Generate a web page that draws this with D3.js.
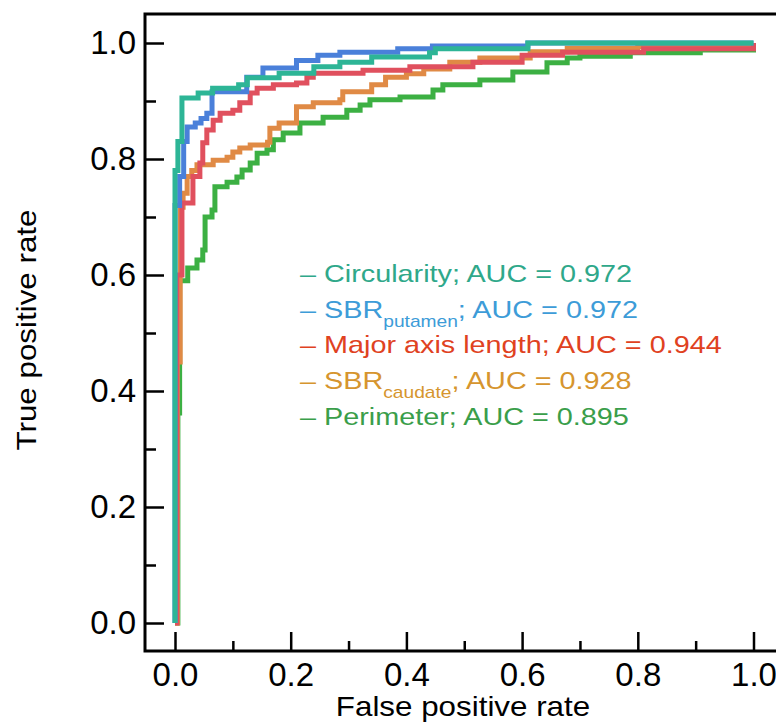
<!DOCTYPE html>
<html>
<head>
<meta charset="utf-8">
<script src="https://cdn.jsdelivr.net/npm/d3@7"></script>
<style>
  body { margin: 0; background: #fff; }
  text { font-family: "Liberation Sans", Arial, Helvetica, sans-serif; }
</style>
</head>
<body>
<div id="my_dataviz"></div>
<script>
// ROC points [false positive rate, true positive rate]
var circularityRoc = [[0,0],[0,0.78],[0.005,0.83],[0.012,0.905],[0.04,0.914],[0.065,0.922],[0.11,0.928],[0.125,0.94],[0.18,0.948],[0.24,0.959],[0.285,0.967],[0.34,0.976],[0.44,0.983],[0.45,0.99],[0.61,1.0],[1,1]];
var putamenRoc = [[0,0],[0,0.72],[0.008,0.77],[0.015,0.83],[0.021,0.855],[0.035,0.862],[0.045,0.87],[0.055,0.879],[0.064,0.916],[0.124,0.941],[0.152,0.957],[0.21,0.97],[0.247,0.979],[0.285,0.984],[0.385,0.99],[0.445,0.995],[0.61,1.0],[1,1]];
var majorAxisRoc = [[0,0],[0.003,0.6],[0.012,0.724],[0.031,0.77],[0.043,0.793],[0.048,0.828],[0.055,0.85],[0.066,0.867],[0.078,0.879],[0.1,0.884],[0.112,0.897],[0.13,0.914],[0.142,0.922],[0.17,0.928],[0.21,0.931],[0.228,0.941],[0.239,0.948],[0.325,0.953],[0.406,0.959],[0.515,0.967],[0.6,0.979],[0.67,0.984],[0.81,0.99],[1,1]];
var caudateRoc = [[0,0],[0.004,0.45],[0.009,0.717],[0.014,0.741],[0.021,0.77],[0.029,0.78],[0.038,0.79],[0.066,0.798],[0.09,0.803],[0.1,0.812],[0.112,0.819],[0.13,0.824],[0.16,0.829],[0.164,0.853],[0.18,0.862],[0.21,0.89],[0.239,0.897],[0.285,0.902],[0.29,0.916],[0.34,0.928],[0.364,0.941],[0.4,0.947],[0.43,0.955],[0.475,0.967],[0.527,0.974],[0.614,0.985],[0.678,0.991],[0.8,0.994],[1,1]];
var perimeterRoc = [[0,0],[0.005,0.362],[0.008,0.59],[0.022,0.612],[0.038,0.626],[0.048,0.643],[0.052,0.7],[0.064,0.712],[0.069,0.752],[0.09,0.76],[0.107,0.769],[0.116,0.781],[0.13,0.793],[0.142,0.81],[0.159,0.816],[0.17,0.833],[0.187,0.845],[0.216,0.862],[0.256,0.872],[0.297,0.884],[0.32,0.893],[0.337,0.902],[0.389,0.907],[0.446,0.919],[0.463,0.928],[0.527,0.936],[0.584,0.95],[0.643,0.966],[0.678,0.974],[0.7,0.977],[0.787,0.983],[0.908,0.988],[1,1]];

// legend: name, subscript and AUC for each curve (same order as above)
var seriesNames = ["Circularity", "SBR", "Major axis length", "SBR", "Perimeter"];
var seriesSubs = ["", "putamen", "", "caudate", ""];
var aucValues = ["0.972", "0.972", "0.944", "0.928", "0.895"];
var majorTicks = [0, 0.2, 0.4, 0.6, 0.8, 1.0];
var minorTicks = [0.1, 0.3, 0.5, 0.7, 0.9];

var curves = [circularityRoc, putamenRoc, majorAxisRoc, caudateRoc, perimeterRoc];
var lineColors = ["#2db596", "#4a80da", "#e0505e", "#e08a45", "#3cb043"];
var textColors = ["#2fa88a", "#3d9cd8", "#e0421f", "#d6952e", "#3a9e4a"];

var W = 776, H = 724;
var svg = d3.select("#my_dataviz")
  .append("svg")
    .attr("width", W)
    .attr("height", H);

// scales: plot area is inset from the frame
var x = d3.scaleLinear().domain([0, 1]).range([175, 753.5]);
var y = d3.scaleLinear().domain([0, 1]).range([623, 43]);
var frameLeft = 145, frameTop = 14, frameBottom = 651;

// bottom axis, ticks pointing inward
var xMajor = svg.append("g")
  .attr("transform", "translate(0," + frameBottom + ")")
  .call(d3.axisBottom(x).tickValues(majorTicks).tickSize(-19).tickPadding(12).tickFormat(d3.format(".1f")));
svg.append("g")
  .attr("transform", "translate(0," + frameBottom + ")")
  .call(d3.axisBottom(x).tickValues(minorTicks).tickSize(-10).tickFormat(""));

// left axis
var yMajor = svg.append("g")
  .attr("transform", "translate(" + frameLeft + ",0)")
  .call(d3.axisLeft(y).tickValues(majorTicks).tickSize(-19).tickPadding(9).tickFormat(d3.format(".1f")));
svg.append("g")
  .attr("transform", "translate(" + frameLeft + ",0)")
  .call(d3.axisLeft(y).tickValues(minorTicks).tickSize(-11).tickFormat(""));

svg.selectAll(".domain").remove();
svg.selectAll(".tick line").attr("stroke", "#000").attr("stroke-width", 2.5);
svg.selectAll(".tick text")
  .attr("fill", "#000")
  .style("font-size", "33px");
xMajor.selectAll(".tick text").attr("dy", "0.71em");

// frame (right edge runs off the picture)
svg.append("path")
  .attr("d", "M" + (W + 20) + "," + frameTop + "H" + frameLeft + "V" + frameBottom + "H" + (W + 20))
  .attr("fill", "none")
  .attr("stroke", "#000")
  .attr("stroke-width", 3);

// ROC curves, drawn as stairs; teal on top
var line = d3.line()
  .x(function(d) { return x(d[0]); })
  .y(function(d) { return y(d[1]); })
  .curve(d3.curveStepAfter);

var order = [4, 3, 2, 1, 0];
svg.selectAll(".roc")
  .data(order)
  .enter()
  .append("path")
    .attr("class", "roc")
    .attr("fill", "none")
    .attr("stroke", function(i) { return lineColors[i]; })
    .attr("stroke-width", 5)
    .attr("d", function(i) { return line(curves[i]); });

// legend text
var legend = svg.append("g");
seriesNames.forEach(function(name, i) {
  var t = legend.append("text")
    .attr("transform", "translate(300," + (282 + i * 35.7) + ") scale(1.2,1)")
    .attr("fill", textColors[i])
    .style("font-size", "24px");
  t.append("tspan").text("\u2013 " + name);
  if (seriesSubs[i]) {
    t.append("tspan").attr("dy", 9).style("font-size", "16px").text(seriesSubs[i]);
    t.append("tspan").attr("dy", -9).text("; AUC = " + aucValues[i]);
  } else {
    t.append("tspan").text("; AUC = " + aucValues[i]);
  }
});

// axis titles
svg.append("text")
  .attr("transform", "translate(463,716) scale(1.12,1)")
  .attr("text-anchor", "middle")
  .style("font-size", "28px")
  .text("False positive rate");

svg.append("text")
  .attr("transform", "translate(36,330) rotate(-90) scale(1.12,1)")
  .attr("text-anchor", "middle")
  .style("font-size", "28px")
  .text("True positive rate");
</script>
</body>
</html>
